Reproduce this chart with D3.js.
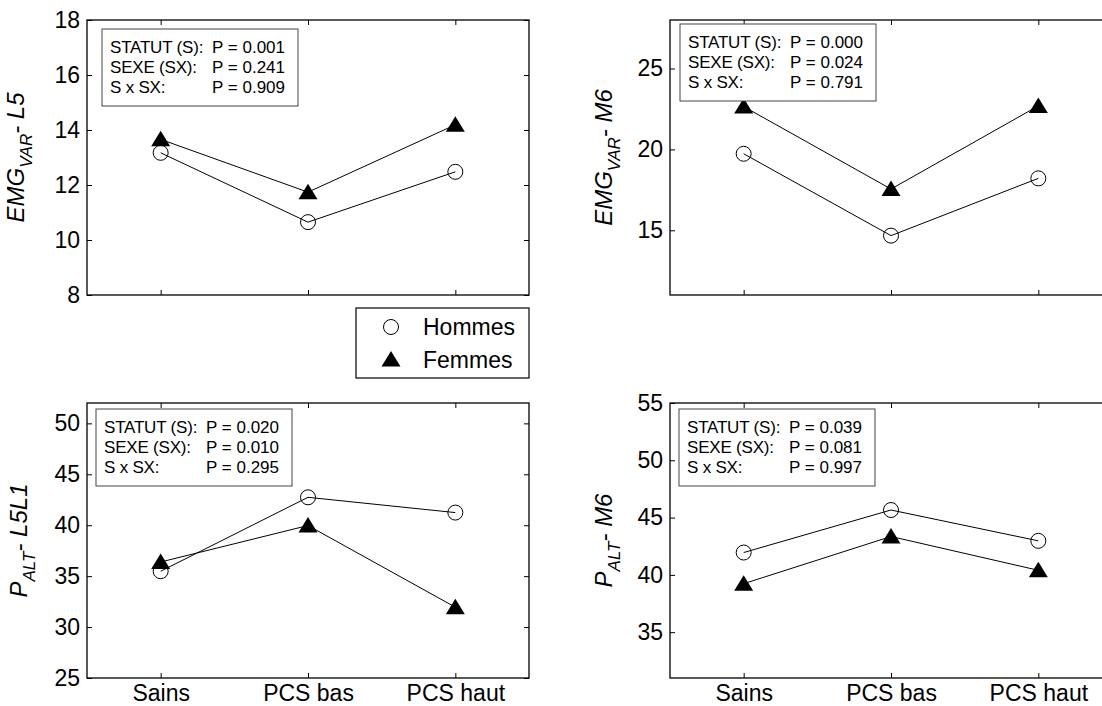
<!DOCTYPE html>
<html><head><meta charset="utf-8">
<script src="https://cdn.jsdelivr.net/npm/d3@7"></script>
<style>
body{margin:0;background:#fff;}
text{font-family:Arial,"Liberation Sans",Helvetica,sans-serif;fill:#000;}
</style>
</head><body>
<svg id="c" width="1102" height="706"></svg>
<script>
// ---------- DATA ----------
const categories = ["Sains", "PCS bas", "PCS haut"];
const seriesNames = ["Hommes", "Femmes"];

const emgL5_hommes = [13.17, 10.65, 12.48];
const emgL5_femmes = [13.66, 11.74, 14.19];
const emgM6_hommes = [19.73, 14.67, 18.21];
const emgM6_femmes = [22.65, 17.55, 22.69];
const paltL5L1_hommes = [35.48, 42.74, 41.24];
const paltL5L1_femmes = [36.39, 39.97, 31.95];
const paltM6_hommes = [41.95, 45.66, 42.97];
const paltM6_femmes = [39.23, 43.35, 40.40];

const yDomains = [[8, 18], [11, 28], [25, 52], [31, 55]];
const yTickValues = [[8, 10, 12, 14, 16, 18], [15, 20, 25], [25, 30, 35, 40, 45, 50], [35, 40, 45, 50, 55]];
const yLabelMain = ["EMG", "EMG", "P", "P"];
const yLabelSub = ["VAR", "VAR", "ALT", "ALT"];
const yLabelTail = ["- L5", "- M6", "- L5L1", "- M6"];

const statLabels = ["STATUT (S):", "SEXE (SX):", "S x SX:"];
const statP = [["0.001", "0.241", "0.909"], ["0.000", "0.024", "0.791"], ["0.020", "0.010", "0.295"], ["0.039", "0.081", "0.997"]];

const panelSeries = [
  [emgL5_hommes, emgL5_femmes],
  [emgM6_hommes, emgM6_femmes],
  [paltL5L1_hommes, paltL5L1_femmes],
  [paltM6_hommes, paltM6_femmes]
];

// ---------- LAYOUT ----------
const PW = 442, PH = 275;
const layout = [
  {x: 87,  y: 20,  bx: 15, by: 9, lab: -63, xlabels: false},
  {x: 670, y: 20,  bx: 10, by: 4, lab: -58, xlabels: false},
  {x: 87,  y: 403, bx: 9,  by: 6, lab: -60, xlabels: true},
  {x: 670, y: 403, bx: 9,  by: 6, lab: -58, xlabels: true}
];

const svg = d3.select("#c");
const triPath = "M0,-8.5L9.5,7L-9.5,7Z";

layout.forEach((L, i) => {
  const g = svg.append("g").attr("transform", `translate(${L.x},${L.y})`);
  const x = d3.scalePoint().domain(categories).range([PW / 6, PW * 5 / 6]);
  const y = d3.scaleLinear().domain(yDomains[i]).range([PH, 0]);

  // frame
  g.append("rect").attr("x", 0).attr("y", 0).attr("width", PW).attr("height", PH)
    .attr("fill", "none").attr("stroke", "#000").attr("stroke-width", 1.3);

  // axes
  const ax = [
    g.append("g").call(d3.axisLeft(y).tickValues(yTickValues[i]).tickSizeInner(-5).tickSizeOuter(0).tickPadding(7)),
    g.append("g").attr("transform", `translate(${PW},0)`).call(d3.axisRight(y).tickValues(yTickValues[i]).tickSizeInner(-5).tickSizeOuter(0).tickFormat("")),
    g.append("g").call(d3.axisTop(x).tickSizeInner(-5).tickSizeOuter(0).tickFormat("")),
    g.append("g").attr("transform", `translate(0,${PH})`).call(d3.axisBottom(x).tickSizeInner(-5).tickSizeOuter(0).tickPadding(6.5).tickFormat(L.xlabels ? (d => d) : ""))
  ];
  ax.forEach(a => {
    a.select(".domain").remove();
    a.selectAll("line").attr("stroke", "#000");
    a.selectAll("text").style("font-size", "23px").attr("font-family", "Arial, 'Liberation Sans', sans-serif");
  });

  // y label
  const t = g.append("text")
    .attr("transform", `translate(${L.lab},${PH / 2}) rotate(-90)`)
    .attr("text-anchor", "middle")
    .style("font-style", "italic")
    .style("font-size", "24px");
  t.append("tspan").text(yLabelMain[i]);
  t.append("tspan").attr("dy", 8).style("font-size", "17px").text(yLabelSub[i]);
  t.append("tspan").attr("dy", -8).text(yLabelTail[i]);

  // series
  const line = d3.line().x((d, j) => x(categories[j])).y(d => y(d));
  panelSeries[i].forEach((vals, s) => {
    g.append("path").datum(vals).attr("d", line)
      .attr("fill", "none").attr("stroke", "#000").attr("stroke-width", 1);
  });
  // Hommes: open circles
  g.selectAll(".hom").data(panelSeries[i][0]).enter().append("circle")
    .attr("cx", (d, j) => x(categories[j])).attr("cy", d => y(d)).attr("r", 7.5)
    .attr("fill", "none").attr("stroke", "#000").attr("stroke-width", 1);
  // Femmes: filled triangles
  g.selectAll(".fem").data(panelSeries[i][1]).enter().append("path")
    .attr("d", triPath)
    .attr("transform", (d, j) => `translate(${x(categories[j])},${y(d)})`)
    .attr("fill", "#000");

  // stats box
  const bw = 196, bh = 77;
  const sb = g.append("g").attr("transform", `translate(${L.bx},${L.by})`);
  sb.append("rect").attr("width", bw).attr("height", bh)
    .attr("fill", "#fff").attr("stroke", "#444").attr("stroke-width", 1);
  statLabels.forEach((lab, k) => {
    const ty = bh / 2 - 20 + k * 20;
    sb.append("text").attr("x", 8).attr("y", ty).attr("dominant-baseline", "central")
      .style("font-size", "17px").style("letter-spacing", "-0.2px").text(lab);
    sb.append("text").attr("x", 183).attr("y", ty).attr("dominant-baseline", "central")
      .attr("text-anchor", "end").style("font-size", "17px").text("P = " + statP[i][k]);
  });
});

// legend
const lg = svg.append("g").attr("transform", "translate(356,308)");
lg.append("rect").attr("width", 173).attr("height", 70)
  .attr("fill", "#fff").attr("stroke", "#000").attr("stroke-width", 1.2);
const legY = [19, 51.5];
lg.append("circle").attr("cx", 35).attr("cy", legY[0]).attr("r", 7.5)
  .attr("fill", "none").attr("stroke", "#000");
lg.append("path").attr("d", triPath).attr("transform", `translate(35,${legY[1]})`).attr("fill", "#000");
seriesNames.forEach((n, k) => {
  lg.append("text").attr("x", 67).attr("y", legY[k]).attr("dominant-baseline", "central")
    .style("font-size", "23px").text(n);
});
</script>
</body></html>
